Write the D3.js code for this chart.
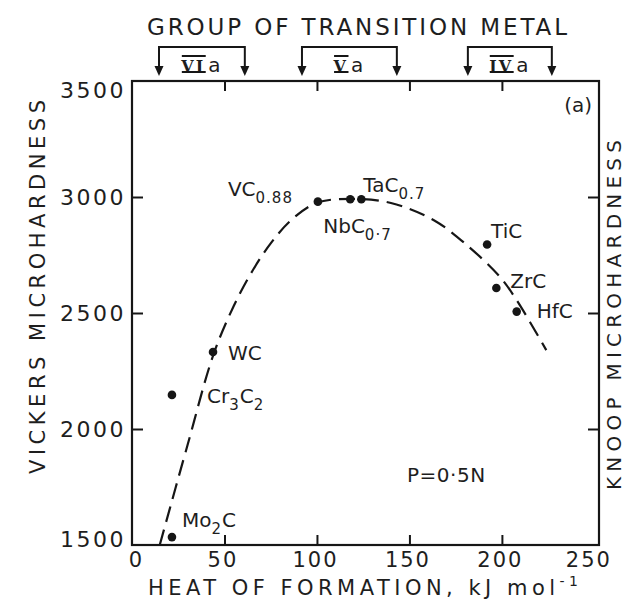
<!DOCTYPE html>
<html>
<head>
<meta charset="utf-8">
<script src="https://cdn.jsdelivr.net/npm/d3@7"></script>
<style>
  body { margin: 0; background: #fff; }
  svg { display: block; }
  text { font-family: 'DejaVu Sans', sans-serif; fill: #1e1e1e; }
</style>
</head>
<body>
<svg width="627" height="608"></svg>
<script>
// carbides: heat of formation (kJ/mol) vs Vickers microhardness
const carbides = ['Mo2C', 'Cr3C2', 'WC', 'VC0.88', 'NbC0.7', 'TaC0.7', 'TiC', 'ZrC', 'HfC'];
const heat = [21.6, 21.6, 43.8, 100.5, 118, 124, 192, 197, 208];
const hardness = [1534, 2147, 2332, 2980, 2990, 2990, 2795, 2608, 2506];

// label pieces: [text, isSubscript]
const labelParts = [
  [['Mo', 0], ['2', 1], ['C', 0]],
  [['Cr', 0], ['3', 1], ['C', 0], ['2', 1]],
  [['WC', 0]],
  [['VC', 0], ['0.88', 1]],
  [['NbC', 0], ['0·7', 1]],
  [['TaC', 0], ['0.7', 1]],
  [['TiC', 0]],
  [['ZrC', 0]],
  [['HfC', 0]],
];
// label offsets from the dot (px)
const labelDx = [10, 35, 15, -90, -27, 2, 4, 14, 20];
const labelDy = [-10, 8, 8, -6, 34, -7, -7, 0, 6];

// dashed trend line
const curveX = [15, 30, 44, 55, 65, 75, 86, 100, 120, 140, 163, 181, 199, 208, 224];
const curveY = [1500, 1930, 2320, 2530, 2680, 2800, 2900, 2975, 2992, 2974, 2901, 2793, 2655, 2555, 2340];

// transition metal groups along the top
const groupNames = ['VI', 'V', 'IV'];
const groupFrom = [14.6, 91.9, 181.6];
const groupTo = [61, 143.2, 227];

const xTicks = [0, 50, 100, 150, 200, 250];
const yTicks = [1500, 2000, 2500, 3000, 3500];
const innerTicksY = [2000, 2500, 3000];
const innerTicksX = [50, 100, 150, 200];

const padL = 132, padR = 599, padT = 81, padB = 545;

const svg = d3.select('svg');
svg.append('rect').attr('width', 627).attr('height', 608).attr('fill', '#fff');

const x = d3.scaleLinear().domain([0, 252.5]).range([padL, padR]);
const y = d3.scaleLinear().domain([1500, 3500]).range([padB, padT]);

const ink = '#161616';
const fs = 21;

// frame
svg.append('rect')
  .attr('x', padL).attr('y', padT)
  .attr('width', padR - padL).attr('height', padB - padT)
  .attr('fill', 'none').attr('stroke', ink).attr('stroke-width', 2.2);

// left axis
const yAxis = svg.append('g')
  .attr('transform', `translate(${padL},0)`)
  .call(d3.axisLeft(y).tickValues(yTicks).tickFormat(d3.format('d'))
    .tickSizeInner(-11).tickSizeOuter(0).tickPadding(6));
yAxis.select('.domain').remove();
yAxis.selectAll('.tick line').attr('stroke', ink).attr('stroke-width', 2)
  .attr('display', (d) => (innerTicksY.includes(d) ? null : 'none'));
yAxis.selectAll('.tick text')
  .attr('font-family', 'DejaVu Sans').attr('font-size', 22)
  .attr('letter-spacing', 2.5).attr('fill', '#1e1e1e')
  .attr('dy', (d) => (d === 3500 ? '0.75em' : d === 1500 ? '0.05em' : '0.36em'));
yAxis.attr('font-size', null).attr('font-family', null);

// right axis (Knoop) ticks only
const yAxisR = svg.append('g')
  .attr('transform', `translate(${padR},0)`)
  .call(d3.axisRight(y).tickValues(innerTicksY).tickSizeInner(-11).tickSizeOuter(0).tickFormat(''));
yAxisR.select('.domain').remove();
yAxisR.selectAll('.tick line').attr('stroke', ink).attr('stroke-width', 2);

// bottom axis
const xAxis = svg.append('g')
  .attr('transform', `translate(0,${padB})`)
  .call(d3.axisBottom(x).tickValues(xTicks).tickSizeInner(-10).tickSizeOuter(0).tickPadding(7));
xAxis.select('.domain').remove();
xAxis.selectAll('.tick line').attr('stroke', ink).attr('stroke-width', 2)
  .attr('display', (d) => (innerTicksX.includes(d) ? null : 'none'));
xAxis.selectAll('.tick text')
  .attr('font-family', 'DejaVu Sans').attr('font-size', fs)
  .attr('letter-spacing', 2).attr('fill', '#1e1e1e')
  .attr('dx', (d) => (d === 0 ? 4 : d === 250 ? -6 : -2));
xAxis.attr('font-size', null).attr('font-family', null);

// top axis ticks
const xAxisT = svg.append('g')
  .attr('transform', `translate(0,${padT})`)
  .call(d3.axisTop(x).tickValues(innerTicksX).tickSizeInner(-10).tickSizeOuter(0).tickFormat(''));
xAxisT.select('.domain').remove();
xAxisT.selectAll('.tick line').attr('stroke', ink).attr('stroke-width', 2);

// axis titles
svg.append('text')
  .attr('x', 148).attr('y', 595)
  .attr('font-size', fs).attr('textLength', 430).attr('lengthAdjust', 'spacing')
  .text('HEAT OF FORMATION, kJ mol')
  .append('tspan').attr('dy', -9).attr('font-size', 14).text('-1');

svg.append('text')
  .attr('transform', 'translate(45,287) rotate(-90)')
  .attr('text-anchor', 'middle')
  .attr('font-size', fs).attr('textLength', 374).attr('lengthAdjust', 'spacing')
  .text('VICKERS MICROHARDNESS');

svg.append('text')
  .attr('transform', 'translate(621,315) rotate(-90)')
  .attr('text-anchor', 'middle')
  .attr('font-size', 20).attr('textLength', 350).attr('lengthAdjust', 'spacing')
  .text('KNOOP MICROHARDNESS');

svg.append('text')
  .attr('x', 147).attr('y', 35)
  .attr('font-size', 23).attr('textLength', 420).attr('lengthAdjust', 'spacing')
  .text('GROUP OF TRANSITION METAL');

// group brackets
const barY = 47, tipY = 76;
groupNames.forEach((name, i) => {
  const g = svg.append('g');
  const x0 = x(groupFrom[i]), x1 = x(groupTo[i]);
  g.append('path')
    .attr('d', `M${x0},${tipY - 8}V${barY}H${x1}V${tipY - 8}`)
    .attr('fill', 'none').attr('stroke', ink).attr('stroke-width', 2);
  [x0, x1].forEach((xx) => {
    g.append('path')
      .attr('d', `M${xx - 4.5},${tipY - 10}L${xx + 4.5},${tipY - 10}L${xx},${tipY}Z`)
      .attr('fill', ink);
  });
  const cx = (x0 + x1) / 2;
  const lab = g.append('text')
    .attr('x', cx).attr('y', 72).attr('text-anchor', 'middle')
    .attr('font-size', 20).attr('letter-spacing', 2);
  const rom = lab.append('tspan').attr('font-family', 'DejaVu Serif').attr('font-weight', 'bold')
    .attr('font-size', 16).text(name);
  lab.append('tspan').attr('dx', 3).text('a');
  // bars over and under the roman numeral
  const rl = rom.node().getComputedTextLength();
  const startX = cx - lab.node().getComputedTextLength() / 2;
  [56, 72].forEach((yy) => {
    g.append('line')
      .attr('x1', startX - 1).attr('x2', startX + rl - 1)
      .attr('y1', yy).attr('y2', yy)
      .attr('stroke', ink).attr('stroke-width', 2);
  });
});

// dashed curve
const line = d3.line()
  .x((d, i) => x(curveX[i]))
  .y((d, i) => y(curveY[i]))
  .curve(d3.curveCatmullRom.alpha(0.5));
svg.append('path')
  .datum(curveX)
  .attr('d', line)
  .attr('fill', 'none').attr('stroke', ink).attr('stroke-width', 2.2)
  .attr('stroke-dasharray', '16,8');

// points
svg.append('g').selectAll('circle')
  .data(carbides)
  .join('circle')
  .attr('cx', (d, i) => x(heat[i]))
  .attr('cy', (d, i) => y(hardness[i]))
  .attr('r', 4.3)
  .attr('fill', ink);

// point labels
carbides.forEach((c, i) => {
  const t = svg.append('text')
    .attr('x', x(heat[i]) + labelDx[i])
    .attr('y', y(hardness[i]) + labelDy[i])
    .attr('font-size', 20);
  let down = 0;
  labelParts[i].forEach(([s, sub]) => {
    const shift = sub ? 7 : 0;
    t.append('tspan')
      .attr('dy', shift - down)
      .attr('font-size', sub ? 15 : 20)
      .attr('letter-spacing', sub ? 1 : 0)
      .text(s);
    down = shift;
  });
});

// annotations
svg.append('text')
  .attr('x', 592).attr('y', 112).attr('text-anchor', 'end')
  .attr('font-size', 20).text('(a)');
svg.append('text')
  .attr('x', 407).attr('y', 482)
  .attr('font-size', 20).attr('letter-spacing', 0.5).text('P=0·5N');
</script>
</body>
</html>
